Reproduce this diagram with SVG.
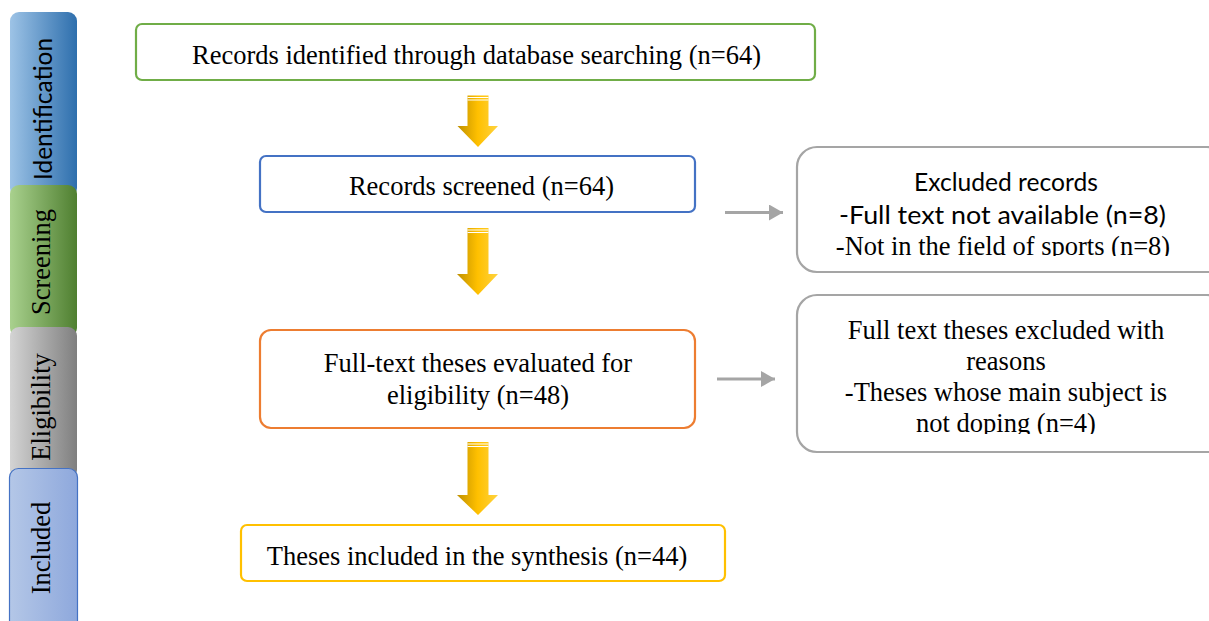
<svg xmlns="http://www.w3.org/2000/svg" width="1209" height="621" viewBox="0 0 1209 621">
<defs>
<linearGradient id="gBlue" x1="0" x2="1" y1="0" y2="0"><stop offset="0" stop-color="#9dc3e6"/><stop offset="1" stop-color="#2e6fad"/></linearGradient>
<linearGradient id="gGreen" x1="0" x2="1" y1="0" y2="0"><stop offset="0" stop-color="#a9d18e"/><stop offset="1" stop-color="#4f7f30"/></linearGradient>
<linearGradient id="gGray" x1="0" x2="1" y1="0" y2="0"><stop offset="0" stop-color="#d4d4d4"/><stop offset="1" stop-color="#7f7f7f"/></linearGradient>
<linearGradient id="gInc" x1="0" x2="1" y1="0" y2="0"><stop offset="0" stop-color="#b4c7e7"/><stop offset="1" stop-color="#8ea8dc"/></linearGradient>
<linearGradient id="gYel" x1="0" x2="1" y1="0" y2="0"><stop offset="0" stop-color="#bf9000"/><stop offset="0.5" stop-color="#ffc000"/><stop offset="1" stop-color="#ffd33f"/></linearGradient>
<marker id="ah" markerWidth="14" markerHeight="16" refX="14" refY="8" orient="auto" markerUnits="userSpaceOnUse"><path d="M0,0 L14,8 L0,16 Z" fill="#a5a5a5"/></marker>
<clipPath id="c5"><rect x="790" y="140" width="419" height="116"/></clipPath>
<clipPath id="c6"><rect x="790" y="290" width="419" height="144"/></clipPath>
</defs>
<style>
.box{fill:#ffffff;stroke-width:2.2}
.gbox{fill:#ffffff;stroke:#a5a5a5;stroke-width:2.2}
.t{font-family:"Liberation Serif","Times New Roman",serif;font-size:26.5px;fill:#000000;text-anchor:middle}
.s{font-family:"Lato","Open Sans",sans-serif;font-size:25px;fill:#000000;text-anchor:middle}
.side{font-family:"Liberation Serif",serif;font-size:26.5px;fill:#000000;text-anchor:middle}
.sides{font-family:"Lato","Open Sans",sans-serif;font-size:24.5px;fill:#000000;text-anchor:middle}
.conn{stroke:#a5a5a5;stroke-width:3;fill:none}
.ya{fill:url(#gYel)}
.ys{fill:#ffffff}
</style>

<g id="sidebar">
<g id="side-identification">
<rect x="10" y="12" width="67" height="185" rx="9" fill="url(#gBlue)"/>
<text class="sides" transform="translate(52,109) rotate(-90)">Identification</text>
</g>
<g id="side-screening">
<rect x="10" y="185" width="67" height="152" rx="9" fill="url(#gGreen)"/>
<text class="side" transform="translate(50,262) rotate(-90)">Screening</text>
</g>
<g id="side-eligibility">
<rect x="10" y="327" width="67" height="152" rx="9" fill="url(#gGray)"/>
<text class="side" transform="translate(50,407) rotate(-90)">Eligibility</text>
</g>
<g id="side-included">
<rect x="9.5" y="468.5" width="68" height="170" rx="9" fill="url(#gInc)" stroke="#4472c4" stroke-width="1.2"/>
<text class="side" transform="translate(50,548) rotate(-90)">Included</text>
</g>
</g>

<g id="connectors">
<g id="yarrow1">
<path class="ya" d="M467.5,95.5 H488.5 V126 H498 L478,147 L457.5,126 H467.5 Z"/>
<rect class="ys" x="467.5" y="97" width="21" height="1"/>
<rect class="ys" x="467.5" y="99.5" width="21" height="1"/>
</g>
<g id="yarrow2">
<path class="ya" d="M467.5,228 H488.5 V274 H498 L478,295 L457,274 H467.5 Z"/>
<rect class="ys" x="467.5" y="229.5" width="21" height="1"/>
<rect class="ys" x="467.5" y="232" width="21" height="1"/>
</g>
<g id="yarrow3">
<path class="ya" d="M467.5,442 H488.5 V495 H498 L478,515 L457,495 H467.5 Z"/>
<rect class="ys" x="467.5" y="443.5" width="21" height="1"/>
<rect class="ys" x="467.5" y="446" width="21" height="1"/>
</g>
<line class="conn" x1="725" y1="212.5" x2="783" y2="212.5" marker-end="url(#ah)"/>
<line class="conn" x1="717" y1="379" x2="775" y2="379" marker-end="url(#ah)"/>
</g>

<g id="node-identified">
<rect class="box" x="136" y="24" width="679" height="56" rx="6" stroke="#70ad47"/>
<text class="t" x="476.5" y="63.5">Records identified through database searching (n=64)</text>
</g>

<g id="node-screened">
<rect class="box" x="260" y="156" width="435" height="56" rx="6" stroke="#4472c4"/>
<text class="t" x="481.5" y="195">Records screened (n=64)</text>
</g>

<g id="node-fulltext">
<rect class="box" x="260" y="330" width="435" height="98" rx="11" stroke="#ed7d31"/>
<text class="t" x="478" y="371.5">Full-text theses evaluated for</text>
<text class="t" x="478" y="403.5">eligibility (n=48)</text>
</g>

<g id="node-included">
<rect class="box" x="241" y="525" width="484" height="56" rx="6" stroke="#ffc000"/>
<text class="t" x="477" y="565">Theses included in the synthesis (n=44)</text>
</g>

<g id="node-excluded-records">
<rect class="gbox" x="797" y="147" width="430" height="125" rx="20"/>
<g clip-path="url(#c5)">
<text class="s" x="1006" y="191" textLength="184" lengthAdjust="spacingAndGlyphs">Excluded records</text>
<text class="s" x="1002.5" y="223.5" textLength="327" lengthAdjust="spacingAndGlyphs">-Full text not available (n=8)</text>
<text class="t" x="1003" y="254.5">-Not in the field of sports (n=8)</text>
</g>
</g>

<g id="node-excluded-fulltext">
<rect class="gbox" x="797" y="295" width="430" height="157" rx="20"/>
<g clip-path="url(#c6)">
<text class="t" x="1006" y="338.5">Full text theses excluded with</text>
<text class="t" x="1006" y="369.5">reasons</text>
<text class="t" x="1006" y="401">-Theses whose main subject is</text>
<text class="t" x="1006" y="432">not doping (n=4)</text>
</g>
</g>
</svg>
